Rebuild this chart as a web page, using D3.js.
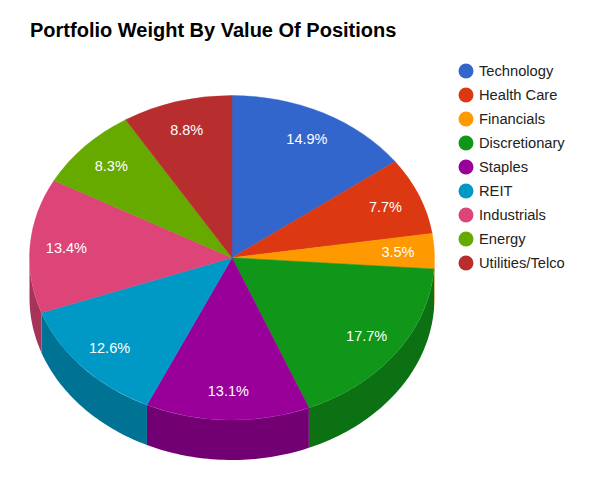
<!DOCTYPE html>
<html>
<head>
<meta charset="utf-8">
<script src="https://cdn.jsdelivr.net/npm/d3@7"></script>
<style>
  body { margin: 0; background: #fff; }
  svg { display: block; font-family: Arial, "Liberation Sans", sans-serif; }
</style>
</head>
<body>
<script>
"use strict";

// chart data
var sectors = ["Technology", "Health Care", "Financials", "Discretionary", "Staples",
               "REIT", "Industrials", "Energy", "Utilities/Telco"];
var weights = [14.9, 7.7, 3.5, 17.7, 13.1, 12.6, 13.4, 8.3, 8.8];
var colors = ["#3366cc", "#dc3912", "#ff9900", "#109618", "#990099",
              "#0099c6", "#dd4477", "#66aa00", "#b82e2e"];
var chartTitle = "Portfolio Weight By Value Of Positions";

var WIDTH = 596, HEIGHT = 495;

// 3D pie geometry
var cx = 232, cy = 257.75;
var rx = 202.5, ry = 162.25;
var depth = 40;
var labelRatio = 0.82;

var svg = d3.select("body").append("svg")
    .attr("width", WIDTH)
    .attr("height", HEIGHT);

svg.append("text")
    .attr("x", 30)
    .attr("y", 37)
    .attr("font-size", 20)
    .attr("font-weight", "bold")
    .attr("fill", "#000")
    .text(chartTitle);

var pie = d3.pie().sort(null).value(function(d) { return d; });
var arcs = pie(weights);

// darker shade for the side walls
var shade = function(c)
{
    var col = d3.rgb(c);
    return d3.rgb(col.r * 0.75, col.g * 0.75, col.b * 0.75).formatHex();
};

// point on the top rim for a given angle (0 = 12 o'clock, clockwise)
var rimX = function(a) { return cx + rx * Math.sin(a); };
var rimY = function(a) { return cy - ry * Math.cos(a); };

var sidePath = function(a0, a1)
{
    var n = Math.max(2, Math.ceil((a1 - a0) / 0.02));
    var pts = [];
    for (var i = 0; i <= n; i++)
    {
        var a = a0 + (a1 - a0) * i / n;
        pts.push([rimX(a), rimY(a)]);
    }
    for (var j = n; j >= 0; j--)
    {
        var b = a0 + (a1 - a0) * j / n;
        pts.push([rimX(b), rimY(b) + depth]);
    }
    return d3.line()(pts) + "Z";
};

// side walls: only the front half (from 3 o'clock to 9 o'clock) is visible
var sides = svg.append("g").attr("class", "sides");
arcs.forEach(function(d, i)
{
    var a0 = Math.max(d.startAngle, Math.PI / 2);
    var a1 = Math.min(d.endAngle, Math.PI * 1.5);
    if (a1 <= a0) return;
    sides.append("path")
        .attr("d", sidePath(a0, a1))
        .attr("fill", shade(colors[i]));
});

// top faces: circle arcs squashed into the ellipse
var arcGen = d3.arc().innerRadius(0).outerRadius(rx);
svg.append("g")
    .attr("transform", "translate(" + cx + "," + cy + ") scale(1," + (ry / rx) + ")")
    .selectAll("path")
    .data(arcs)
    .enter()
    .append("path")
    .attr("d", arcGen)
    .attr("fill", function(d, i) { return colors[i]; })
    .attr("stroke", function(d, i) { return colors[i]; })
    .attr("stroke-width", 0.5);

// percentage labels
svg.append("g")
    .selectAll("text")
    .data(arcs)
    .enter()
    .append("text")
    .attr("x", function(d) { return cx + rx * labelRatio * Math.sin((d.startAngle + d.endAngle) / 2); })
    .attr("y", function(d) { return cy - ry * labelRatio * Math.cos((d.startAngle + d.endAngle) / 2); })
    .attr("dy", "0.35em")
    .attr("text-anchor", "middle")
    .attr("font-size", 14.5)
    .attr("fill", "#fff")
    .text(function(d) { return d.data.toFixed(1) + "%"; });

// legend
var legend = svg.append("g")
    .attr("transform", "translate(466,71)")
    .selectAll("g")
    .data(sectors)
    .enter()
    .append("g")
    .attr("transform", function(d, i) { return "translate(0," + (i * 24) + ")"; });

legend.append("circle")
    .attr("r", 7.5)
    .attr("fill", function(d, i) { return colors[i]; });

legend.append("text")
    .attr("x", 13)
    .attr("dy", "0.35em")
    .attr("font-size", 14.7)
    .attr("fill", "#222")
    .text(function(d) { return d; });
</script>
</body>
</html>
